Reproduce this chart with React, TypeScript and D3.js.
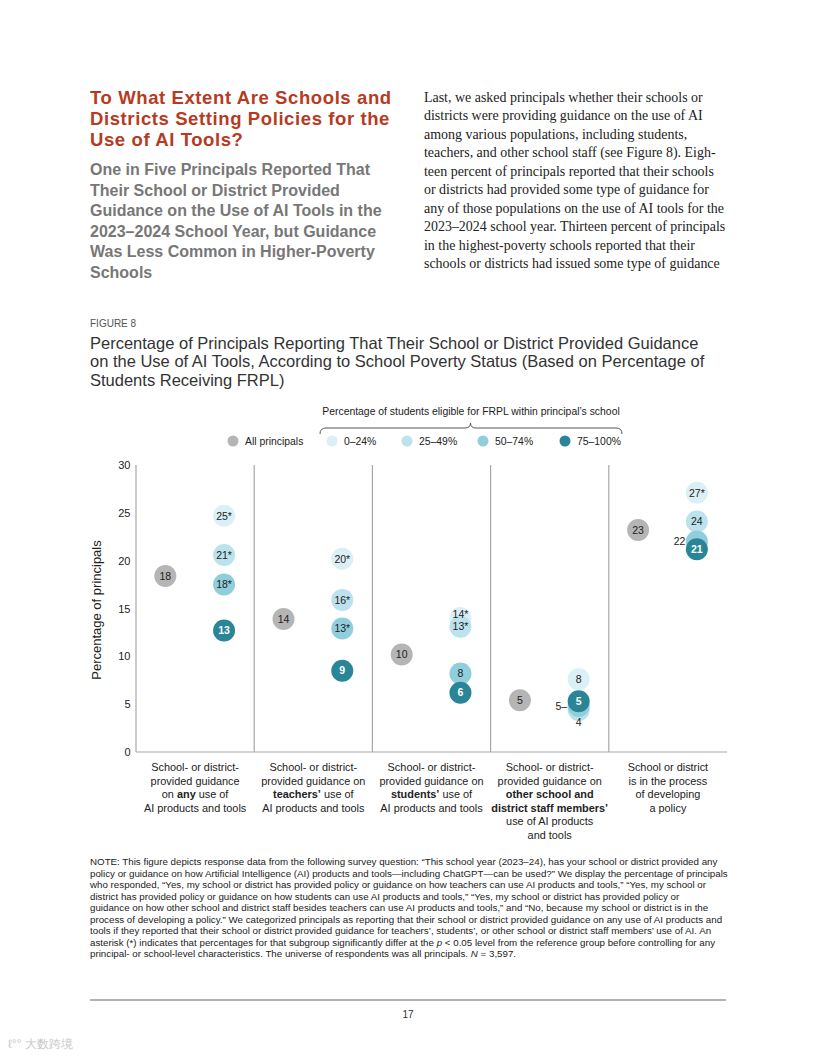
import React from "react";
import * as d3 from "d3";

// ---------- DATA ----------
const categoryLabels: [string, boolean][][][] = [
  [
    [["School- or district-", false]],
    [["provided guidance", false]],
    [["on ", false], ["any", true], [" use of", false]],
    [["AI products and tools", false]],
  ],
  [
    [["School- or district-", false]],
    [["provided guidance on", false]],
    [["teachers’", true], [" use of", false]],
    [["AI products and tools", false]],
  ],
  [
    [["School- or district-", false]],
    [["provided guidance on", false]],
    [["students’", true], [" use of", false]],
    [["AI products and tools", false]],
  ],
  [
    [["School- or district-", false]],
    [["provided guidance on", false]],
    [["other school and", true]],
    [["district staff members’", true]],
    [["use of AI products", false]],
    [["and tools", false]],
  ],
  [
    [["School or district", false]],
    [["is in the process", false]],
    [["of developing", false]],
    [["a policy", false]],
  ],
];
const categories = ["any", "teachers", "students", "staff", "developing"];

const allPrincipals = [18.4, 13.9, 10.2, 5.4, 23.2];
const allPrincipalsLabels = ["18", "14", "10", "5", "23"];

const groupNames = ["0–24%", "25–49%", "50–74%", "75–100%"];
const frpl0to24 = [24.7, 20.2, 14.0, 7.6, 27.1];
const frpl0to24Labels = ["25*", "20*", "14*", "8", "27*"];
const frpl25to49 = [20.6, 15.9, 13.1, 4.4, 24.1];
const frpl25to49Labels = ["21*", "16*", "13*", "4", "24"];
const frpl50to74 = [17.5, 12.9, 8.2, 4.8, 22.0];
const frpl50to74Labels = ["18*", "13*", "8", "5–", "22"];
const frpl75to100 = [12.7, 8.5, 6.2, 5.3, 21.2];
const frpl75to100Labels = ["13", "9", "6", "5", "21"];

const yTicks = [0, 5, 10, 15, 20, 25, 30];

// label placement overrides (style, not data)
const labelPlacement: Record<string, string> = {
  "0-2": "up",
  "1-3": "below",
  "2-3": "left",
  "2-4": "left",
};

const groupColors = ["#daf0f6", "#bce2ed", "#91cedc", "#2a8597"];
const grayColor = "#b5b5b5";

const headerTitle = [
  "To What Extent Are Schools and",
  "Districts Setting Policies for the",
  "Use of AI Tools?",
];
const headerSub = [
  "One in Five Principals Reported That",
  "Their School or District Provided",
  "Guidance on the Use of AI Tools in the",
  "2023–2024 School Year, but Guidance",
  "Was Less Common in Higher-Poverty",
  "Schools",
];
const bodyText = [
  "Last, we asked principals whether their schools or",
  "districts were providing guidance on the use of AI",
  "among various populations, including students,",
  "teachers, and other school staff (see Figure 8). Eigh-",
  "teen percent of principals reported that their schools",
  "or districts had provided some type of guidance for",
  "any of those populations on the use of AI tools for the",
  "2023–2024 school year. Thirteen percent of principals",
  "in the highest-poverty schools reported that their",
  "schools or districts had issued some type of guidance",
];
const figTitle = [
  "Percentage of Principals Reporting That Their School or District Provided Guidance",
  "on the Use of AI Tools, According to School Poverty Status (Based on Percentage of",
  "Students Receiving FRPL)",
];
const noteLines: [string, boolean][][] = [
  [["NOTE: This figure depicts response data from the following survey question: “This school year (2023–24), has your school or district provided any", false]],
  [["policy or guidance on how Artificial Intelligence (AI) products and tools—including ChatGPT—can be used?” We display the percentage of principals", false]],
  [["who responded, “Yes, my school or district has provided policy or guidance on how teachers can use AI products and tools,” “Yes, my school or", false]],
  [["district has provided policy or guidance on how students can use AI products and tools,” “Yes, my school or district has provided policy or", false]],
  [["guidance on how other school and district staff besides teachers can use AI products and tools,” and “No, because my school or district is in the", false]],
  [["process of developing a policy.” We categorized principals as reporting that their school or district provided guidance on any use of AI products and", false]],
  [["tools if they reported that their school or district provided guidance for teachers’, students’, or other school or district staff members’ use of AI. An", false]],
  [["asterisk (*) indicates that percentages for that subgroup significantly differ at the ", false], ["p", true], [" < 0.05 level from the reference group before controlling for any", false]],
  [["principal- or school-level characteristics. The universe of respondents was all principals. ", false], ["N", true], [" = 3,597.", false]],
];

const SANS = "'Liberation Sans', Arial, Helvetica, sans-serif";
const SERIF = "'Liberation Serif', 'Times New Roman', serif";

export default function App() {
  const plotLeft = 136;
  const plotRight = 727;
  const plotTop = 465;
  const plotBottom = 752;

  const x = d3.scaleBand<string>().domain(categories).range([plotLeft, plotRight]).padding(0);
  const y = d3.scaleLinear().domain([0, 30]).range([plotBottom, plotTop]);
  const bw = x.bandwidth();
  const grayX = (c: string) => (x(c) as number) + bw * 0.248;
  const groupX = (c: string) => (x(c) as number) + bw * 0.745;
  const r = 11;

  const groups = [
    { vals: frpl0to24, labels: frpl0to24Labels },
    { vals: frpl25to49, labels: frpl25to49Labels },
    { vals: frpl50to74, labels: frpl50to74Labels },
    { vals: frpl75to100, labels: frpl75to100Labels },
  ];

  const legendItems = [
    { name: "All principals", color: grayColor, cx: 233 },
    ...groupNames.map((n, i) => ({ name: n, color: groupColors[i], cx: [332, 407, 483, 565][i] })),
  ];

  return (
    <svg
      width={816}
      height={1056}
      style={{ position: "absolute", left: 0, top: 0, background: "#fff" }}
      fontFamily={SANS}
    >
      {/* Header left */}
      {headerTitle.map((t, i) => (
        <text
          key={"ht" + i}
          x={90}
          y={103.5 + i * 21}
          fontSize={18.5}
          letterSpacing={0.6}
          fontWeight={700}
          fill="#b63b22"
        >
          {t}
        </text>
      ))}
      {headerSub.map((t, i) => (
        <text key={"hs" + i} x={90} y={175 + i * 20.5} fontSize={16} fontWeight={700} fill="#777">
          {t}
        </text>
      ))}
      {/* Body right */}
      {bodyText.map((t, i) => (
        <text key={"bt" + i} x={424} y={101.5 + i * 18.5} fontSize={13.95} fontFamily={SERIF} fill="#222">
          {t}
        </text>
      ))}

      {/* Figure heading */}
      <text x={90} y={327} fontSize={10} fill="#555">
        FIGURE 8
      </text>
      {figTitle.map((t, i) => (
        <text key={"ft" + i} x={90} y={348.5 + i * 18.5} fontSize={16.5} fill="#333">
          {t}
        </text>
      ))}

      {/* Legend */}
      <text x={471} y={414.5} fontSize={10.4} textAnchor="middle" fill="#222">
        Percentage of students eligible for FRPL within principal’s school
      </text>
      <path
        d="M320,434 Q320,428 326,428 L465,428 Q470.5,428 470.5,423 Q470.5,428 476,428 L616,428 Q622,428 622,434"
        fill="none"
        stroke="#555"
        strokeWidth={1}
      />
      {legendItems.map((it, i) => (
        <g key={"lg" + i}>
          <circle cx={it.cx} cy={441} r={5.5} fill={it.color} />
          <text x={it.cx + 12} y={444.8} fontSize={10.4} fill="#222">
            {it.name}
          </text>
        </g>
      ))}

      {/* Axes */}
      <line x1={plotLeft} x2={plotLeft} y1={plotTop} y2={plotBottom} stroke="#a8a8a8" strokeWidth={1.2} />
      <line x1={plotLeft} x2={plotRight} y1={plotBottom} y2={plotBottom} stroke="#a8a8a8" strokeWidth={1.2} />
      {categories.slice(1).map((c) => (
        <line
          key={"div" + c}
          x1={x(c)}
          x2={x(c)}
          y1={plotTop}
          y2={plotBottom}
          stroke="#a8a8a8"
          strokeWidth={1.2}
        />
      ))}
      {yTicks.map((t) => (
        <text key={"yt" + t} x={130.5} y={y(t) + 4} fontSize={11} textAnchor="end" fill="#222">
          {t}
        </text>
      ))}
      <text
        transform={`translate(101,${610}) rotate(-90)`}
        fontSize={13}
        textAnchor="middle"
        fill="#222"
      >
        Percentage of principals
      </text>

      {/* All principals */}
      {categories.map((c, i) => (
        <g key={"ap" + c}>
          <circle cx={grayX(c)} cy={y(allPrincipals[i])} r={r} fill={grayColor} />
          <text x={grayX(c)} y={y(allPrincipals[i]) + 3.8} fontSize={10.5} textAnchor="middle" fill="#222">
            {allPrincipalsLabels[i]}
          </text>
        </g>
      ))}

      {/* Group circles */}
      {groups.map((g, gi) =>
        categories.map((c, ci) => (
          <circle key={"gc" + gi + c} cx={groupX(c)} cy={y(g.vals[ci])} r={r} fill={groupColors[gi]} />
        ))
      )}
      {/* Group labels */}
      {groups.map((g, gi) =>
        categories.map((c, ci) => {
          const cx = groupX(c);
          const cy = y(g.vals[ci]);
          const place = labelPlacement[`${gi}-${ci}`] || "center";
          let tx = cx;
          let ty = cy + 3.8;
          let anchor: "middle" | "end" = "middle";
          if (place === "up") ty = cy - 0.5;
          if (place === "below") ty = cy + 16.5;
          if (place === "left") {
            tx = cx - 11.5;
            anchor = "end";
            ty = cy + 3.8;
          }
          const label = g.labels[ci];
          return (
            <text
              key={"gl" + gi + c}
              x={tx}
              y={ty}
              fontSize={10.5}
              textAnchor={anchor}
              fontWeight={gi === 3 ? 700 : 400}
              fill={gi === 3 ? "#fff" : "#222"}
            >
              {label}
            </text>
          );
        })
      )}

      {/* Category labels */}
      {categories.map((c, ci) => (
        <text key={"cl" + c} fontSize={10.9} textAnchor="middle" fill="#222">
          {categoryLabels[ci].map((line, li) => (
            <tspan key={li} x={(x(c) as number) + bw / 2} y={771 + li * 13.6}>
              {line.map((seg, si) => (
                <tspan key={si} fontWeight={seg[1] ? 700 : 400}>
                  {seg[0]}
                </tspan>
              ))}
            </tspan>
          ))}
        </text>
      ))}

      {/* Note */}
      {noteLines.map((line, li) => (
        <text key={"nl" + li} x={90} y={865 + li * 11.5} fontSize={9.75} fill="#222">
          {line.map((seg, si) => (
            <tspan key={si} fontStyle={seg[1] ? "italic" : "normal"}>
              {seg[0]}
            </tspan>
          ))}
        </text>
      ))}

      {/* Footer */}
      <line x1={90} x2={726} y1={1000} y2={1000} stroke="#999" strokeWidth={1.3} />
      <text x={408} y={1018} fontSize={10} textAnchor="middle" fill="#333">
        17
      </text>
      <text x={8} y={1048} fontSize={12} fill="#c8c8c8">
        ℓ°° 大数跨境
      </text>
    </svg>
  );
}
